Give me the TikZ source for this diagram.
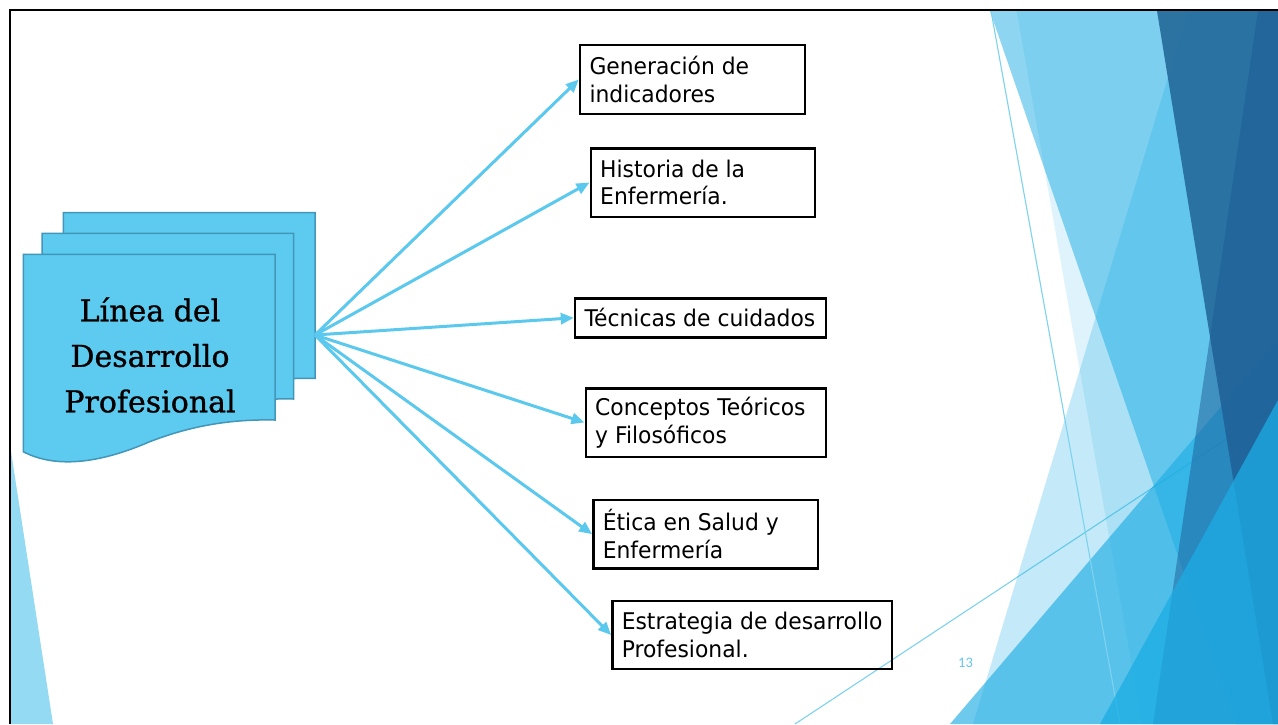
\documentclass[tikz,border=0pt]{standalone}
\usepackage{fontspec}
\setmainfont{DejaVu Sans}
\newfontfamily\docfont{DejaVu Serif}[FakeBold=0.9]
\newfontfamily\boxfont{DejaVu Sans}[FakeStretch=0.95]
\newfontfamily\numfont{Carlito}
\usetikzlibrary{arrows.meta}
\definecolor{facet}{RGB}{28,173,228}
\definecolor{darkb}{RGB}{32,100,149}
\definecolor{rband}{RGB}{30,92,150}
\definecolor{docfill}{RGB}{93,202,239}
\definecolor{docline}{RGB}{65,150,185}
\definecolor{arrowc}{RGB}{91,200,238}
\definecolor{thinl}{RGB}{125,211,238}
\definecolor{leftt}{RGB}{147,218,242}
\definecolor{pnum}{RGB}{100,200,238}
\tikzset{
  docsheet/.pic={\filldraw[fill=docfill, draw=docline, line width=1.5pt]
    (0,0) -- (251.7,0) -- (251.7,165.7)
    .. controls (206.7,164.7) and (166.7,171.7) .. (125.7,187.7)
    .. controls (88.7,203.7) and (38.7,217.7) .. (0,197.4) -- cycle;},
  doctitle/.style={align=center, inner sep=0pt, font=\docfont\fontsize{30}{45.5}\selectfont},
  infobox/.style={draw=black, line width=2.4pt, rectangle, inner sep=0pt},
  infotext/.style={anchor=west, align=left, inner sep=0pt, font=\boxfont\fontsize{23}{27.7}\selectfont},
  conn/.style={draw=arrowc, line width=3pt, -{Triangle[length=13pt,width=11pt]}},
  thinline/.style={draw=thinl, line width=1.1pt},
}
\begin{document}
\begin{tikzpicture}[x=1pt,y=-1pt]
\useasboundingbox (0,0) rectangle (1278,724);
\fill[white] (0,0) rectangle (1278,724);
% right-side and corner decoration
\begin{scope}
\clip (10,11) rectangle (1278,724);
\fill[leftt] (10,445) -- (53,724) -- (0,724) -- (0,445) -- cycle;
\draw[thinline] (795,724) -- (1278,405);
\fill[facet, fill opacity=0.5] (990,11) -- (1290,11) -- (1290,724) -- (1236,724) -- cycle;
\fill[facet, fill opacity=0.14] (1016.7,11) -- (1290,11) -- (1290,724) -- (1142,724) -- cycle;
\fill[facet, fill opacity=0.26] (1188,11) -- (1290,11) -- (1290,724) -- (973,724) -- cycle;
\fill[facet, fill opacity=0.64] (1278,340) -- (1290,340) -- (1290,724) -- (950,724) -- cycle;
\draw[thinline] (991,11) -- (1120,724);
\fill[darkb, fill opacity=0.85] (1157,11) -- (1290,11) -- (1290,724) -- (1273,724) -- cycle;
\fill[rband, fill opacity=0.5] (1258,11) -- (1290,11) -- (1290,724) -- (1153,724) -- cycle;
\fill[facet, fill opacity=0.75] (1278,400) -- (1290,400) -- (1290,724) -- (1100,724) -- cycle;
\end{scope}
\draw[black, line width=2pt] (10,724) -- (10,10) -- (1278,10);
% stacked documents
\pic at (63.3,212.7) {docsheet};
\pic at (42,233.3) {docsheet};
\pic at (23.3,254.3) {docsheet};
\node[doctitle] (title) at (150,355) {Línea del\\Desarrollo\\Profesional};
\coordinate (src) at (315,335);
% boxes
\node[infobox, minimum width=225pt, minimum height=69pt] (b1) at (692.5,79.5) {};
\node[infobox, minimum width=224.3pt, minimum height=68.4pt] (b2) at (702.85,182.5) {};
\node[infobox, minimum width=250.7pt, minimum height=39pt] (b3) at (700.35,317.8) {};
\node[infobox, minimum width=240pt, minimum height=68.4pt] (b4) at (705.7,422.5) {};
\node[infobox, minimum width=224.4pt, minimum height=68.3pt] (b5) at (705.5,534.15) {};
\node[infobox, minimum width=279.4pt, minimum height=68pt] (b6) at (752,635) {};
\node[infotext] (t1) at ([xshift=10.5pt]b1.west) {Generación de\\indicadores};
\node[infotext] (t2) at ([xshift=10.5pt]b2.west) {Historia de la\\Enfermería.};
\node[infotext] (t3) at ([xshift=10.5pt]b3.west) {Técnicas de cuidados};
\node[infotext] (t4) at ([xshift=10.5pt]b4.west) {Conceptos Teóricos\\y Filosóficos};
\node[infotext] (t5) at ([xshift=10.5pt]b5.west) {Ética en Salud y\\Enfermería};
\node[infotext] (t6) at ([xshift=10.5pt]b6.west) {Estrategia de desarrollo\\Profesional.};
% connectors
\foreach \b in {b1,b2,b3,b4,b5,b6} \draw[conn] (src) -- (\b.west);
% page number
\node[text=pnum, inner sep=0pt, font=\numfont\fontsize{14.5}{16}\selectfont] (pg) at (965.5,663.3) {13};
\end{tikzpicture}
\end{document}
